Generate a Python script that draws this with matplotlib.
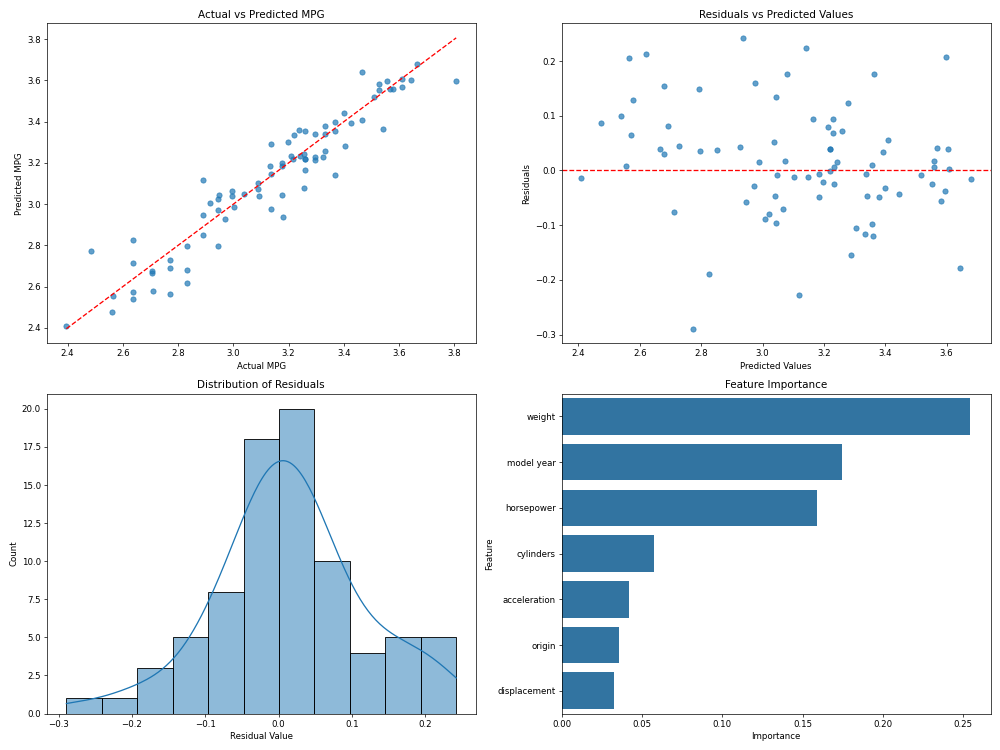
import numpy as np
import matplotlib
matplotlib.use("Agg")
import matplotlib.pyplot as plt
import seaborn as sns

# test set values (log mpg)
y_pred = np.array([
    2.4097, 2.4753, 2.5387, 2.5548, 2.5645, 2.5731, 2.5796, 2.6194, 2.6667, 2.6774,
    2.6785, 2.6914, 2.7129, 2.7280, 2.7742, 2.7946, 2.7968, 2.8269, 2.8516, 2.9269,
    2.9355, 2.9473, 2.9720, 2.9763, 2.9882, 3.0065, 3.0226, 3.0387, 3.0409, 3.0430,
    3.0452, 3.0473, 3.0656, 3.0720, 3.0796, 3.1022, 3.1183, 3.1430, 3.1473, 3.1645,
    3.1828, 3.1828, 3.1978, 3.2140, 3.2183, 3.2204, 3.2183, 3.2280, 3.2301, 3.2344,
    3.2344, 3.2419, 3.2591, 3.2796, 3.2892, 3.3032, 3.3344, 3.3387, 3.3419, 3.3570,
    3.3570, 3.3591, 3.3645, 3.3806, 3.3925, 3.3989, 3.4097, 3.4441, 3.5172, 3.5516,
    3.5581, 3.5602, 3.5699, 3.5817, 3.5957, 3.5989, 3.6032, 3.6086, 3.6430, 3.6796])

y_test = np.array([
    2.3958, 2.5623, 2.6384, 2.5627, 2.7705, 2.6371, 2.7077, 2.8321, 2.7066, 2.7070,
    2.8326, 2.7724, 2.6374, 2.7721, 2.4848, 2.9432, 2.8324, 2.6378, 2.8897, 2.9704,
    3.1778, 2.8899, 2.9436, 3.1364, 3.0039, 2.9171, 2.9434, 3.0913, 2.9950, 3.1765,
    2.9482, 3.0382, 2.9955, 3.0901, 3.2566, 3.0907, 2.8905, 3.3672, 3.1346, 3.2582,
    3.1768, 3.1338, 3.1773, 3.2938, 3.2576, 3.2597, 3.2173, 3.2957, 3.3238, 3.2398,
    3.2102, 3.2570, 3.3310, 3.4023, 3.1345, 3.1975, 3.2178, 3.3327, 3.2960, 3.3673,
    3.2597, 3.2389, 3.5403, 3.3316, 3.4269, 3.3669, 3.4647, 3.4006, 3.5081, 3.5262,
    3.5762, 3.5662, 3.6110, 3.5267, 3.5576, 3.8062, 3.6431, 3.6110, 3.4654, 3.6633])

residuals = y_test - y_pred

features = ['weight', 'model year', 'horsepower', 'cylinders',
            'acceleration', 'origin', 'displacement']
importance = [0.2545, 0.1748, 0.1590, 0.0572, 0.0418, 0.0356, 0.0327]

fig, axes = plt.subplots(2, 2, figsize=(16, 12))

# actual vs predicted
ax = axes[0, 0]
ax.scatter(y_test, y_pred, alpha=0.7)
ax.plot([y_test.min(), y_test.max()], [y_test.min(), y_test.max()], 'r--')
ax.set_xlabel('Actual MPG')
ax.set_ylabel('Predicted MPG')
ax.set_title('Actual vs Predicted MPG')

# residuals
ax = axes[0, 1]
ax.scatter(y_pred, residuals, alpha=0.7)
ax.axhline(y=0, color='r', linestyle='--')
ax.set_xlabel('Predicted Values')
ax.set_ylabel('Residuals')
ax.set_title('Residuals vs Predicted Values')

# histogram of residuals
ax = axes[1, 0]
sns.histplot(residuals, kde=True, bins=11, ax=ax)
ax.set_xlabel('Residual Value')
ax.set_ylabel('Count')
ax.set_title('Distribution of Residuals')

# feature importance
ax = axes[1, 1]
sns.barplot(x=importance, y=features, ax=ax)
ax.set_xlabel('Importance')
ax.set_ylabel('Feature')
ax.set_title('Feature Importance')

plt.tight_layout()
plt.savefig('out.png', dpi=1000 / 16)
